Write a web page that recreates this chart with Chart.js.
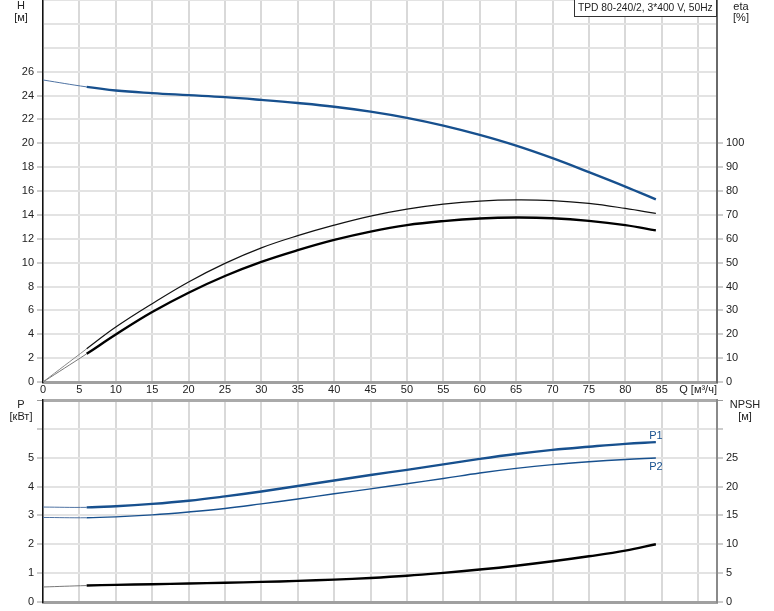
<!DOCTYPE html>
<html>
<head>
<meta charset="utf-8">
<script src="https://cdn.jsdelivr.net/npm/chart.js@4.4.0/dist/chart.umd.min.js"></script>
<style>
  body { margin: 0; background: #fff; }
  #wrap { position: relative; width: 774px; height: 611px; }
  canvas { position: absolute; left: 0; }
  #top-chart { top: 0; }
  #bottom-chart { top: 390px; }
</style>
</head>
<body>
<div id="wrap">
  <canvas id="top-chart" width="774" height="400"></canvas>
  <canvas id="bottom-chart" width="774" height="221"></canvas>
</div>
<script>
// flow points (m3/h), curves are thin from 0 to 6
const qPoints = [0, 6, 10, 15, 20, 25, 30, 35, 40, 45, 50, 55, 60, 65, 70, 75, 80, 84.2];
const headH = [25.3, 24.72, 24.42, 24.2, 24.03, 23.86, 23.63, 23.37, 23.06, 22.65, 22.13, 21.48, 20.7, 19.8, 18.75, 17.58, 16.37, 15.3];
const etaUpper = [0, 13.9, 23.0, 32.8, 41.9, 49.7, 56.2, 61.3, 65.7, 69.5, 72.4, 74.5, 75.8, 76.3, 76.0, 74.8, 72.7, 70.6];
const etaLower = [0, 11.8, 19.9, 29.3, 37.4, 44.4, 50.3, 55.2, 59.5, 63.0, 65.7, 67.4, 68.5, 68.9, 68.6, 67.5, 65.7, 63.5];
const powerP1 = [3.29, 3.28, 3.32, 3.40, 3.51, 3.66, 3.83, 4.02, 4.21, 4.40, 4.58, 4.77, 4.96, 5.13, 5.27, 5.38, 5.48, 5.54];
const powerP2 = [2.93, 2.92, 2.95, 3.02, 3.12, 3.24, 3.40, 3.57, 3.75, 3.92, 4.10, 4.28, 4.47, 4.63, 4.76, 4.86, 4.94, 4.99];
const npshM = [2.6, 2.85, 2.97, 3.08, 3.2, 3.33, 3.48, 3.66, 3.88, 4.17, 4.55, 5.05, 5.62, 6.28, 7.05, 7.92, 8.9, 10.0];

const modelText = "TPD 80-240/2, 3*400 V, 50Hz";
const qMax = 92.6;

const FONT = "'Liberation Sans', Arial, sans-serif";
const BLUE = "#17508e";
Chart.defaults.font = { family: FONT, size: 11 };
Chart.defaults.color = "#222";

function toPoints(ys) {
  return qPoints.map(function (q, i) { return { x: q, y: ys[i] }; });
}

function curve(label, ys, axis, color, width, thinColor) {
  return {
    label: label,
    data: toPoints(ys),
    yAxisID: axis,
    borderColor: color,
    borderWidth: width,
    pointRadius: 0,
    fill: false,
    tension: 0.4,
    // start of curve (Q <= 6) is drawn thin
    segment: {
      borderWidth: function (ctx) { return ctx.p1.parsed.x <= 6 ? 1 : width; },
      borderColor: function (ctx) { return ctx.p1.parsed.x <= 6 ? thinColor : color; },
    },
  };
}

// fixed axis sizes so both panels line up
function fixedWidth(w) {
  return function (scale) { scale.width = w; scale.paddingTop = 0; scale.paddingBottom = 0; };
}
function fixedHeight(h) {
  return function (scale) { scale.height = h; scale.paddingLeft = 0; scale.paddingRight = 0; };
}

function xAxis(showLabels, h) {
  return {
    type: "linear",
    min: 0,
    max: qMax,
    ticks: {
      display: showLabels,
      stepSize: 5,
      includeBounds: false,
      autoSkip: false,
      maxRotation: 0,
      padding: 1,
      callback: function (v) { return v === 90 ? "Q [м³/ч]" : v; },
    },
    grid: { color: "#d9d9d9", lineWidth: 2, drawTicks: false },
    border: { color: "#a0a0a0", width: 3 },
    afterFit: fixedHeight(h),
  };
}

function sideAxis(pos, max, step, lastLabel, width, gridOn, borderColor, topLine) {
  return {
    axis: "y",
    position: pos,
    min: 0,
    max: max,
    ticks: {
      stepSize: step,
      autoSkip: false,
      padding: 3,
      callback: function (v) { return v <= lastLabel ? v : ""; },
    },
    grid: {
      drawOnChartArea: gridOn,
      color: function (ctx) { return topLine && ctx.tick.value === max ? "#aaaaaa" : "#e3e3e3"; },
      lineWidth: function (ctx) { return topLine && ctx.tick.value === max ? 3 : 2; },
      tickLength: 6,
      tickWidth: 1,
      tickColor: function (ctx) {
        return ctx.tick.value <= lastLabel || topLine ? "#999" : "rgba(0,0,0,0)";
      },
    },
    border: { color: borderColor, width: pos === "left" ? 1.5 : 2 },
    afterFit: fixedWidth(width),
  };
}

const topDecor = {
  id: "topDecor",
  afterDraw: function (chart) {
    const c = chart.ctx;
    c.save();
    c.font = "11px " + FONT;
    c.fillStyle = "#222";
    c.textAlign = "center";
    c.textBaseline = "middle";
    c.fillText("H", 21, 6);
    c.fillText("[м]", 21, 18);
    c.fillText("eta", 741, 7);
    c.fillText("[%]", 741, 18);
    // model box, font shrunk to fit like the original
    let size = 11;
    c.font = size + "px " + FONT;
    while (c.measureText(modelText).width > 136 && size > 8) {
      size -= 0.25;
      c.font = size + "px " + FONT;
    }
    c.fillStyle = "#fff";
    c.fillRect(574.5, -0.5, 142, 17);
    c.strokeStyle = "#333";
    c.lineWidth = 1;
    c.strokeRect(574.5, -0.5, 142, 17);
    c.fillStyle = "#222";
    c.textAlign = "left";
    c.fillText(modelText, 578, 8);
    c.restore();
  },
};

const bottomDecor = {
  id: "bottomDecor",
  afterDraw: function (chart) {
    const c = chart.ctx;
    c.save();
    c.font = "11px " + FONT;
    c.fillStyle = "#222";
    c.textAlign = "center";
    c.textBaseline = "middle";
    c.fillText("P", 21, 15);
    c.fillText("[кВт]", 21, 27);
    c.fillText("NPSH", 745, 15);
    c.fillText("[м]", 745, 27);
    // curve names at the end of P1 / P2
    const p1 = chart.getDatasetMeta(0).data;
    const p2 = chart.getDatasetMeta(1).data;
    const e1 = p1[p1.length - 1];
    const e2 = p2[p2.length - 1];
    c.fillStyle = BLUE;
    c.fillText("P1", e1.x, e1.y - 6);
    c.fillText("P2", e2.x, e2.y + 9);
    c.restore();
  },
};

new Chart(document.getElementById("top-chart"), {
  type: "line",
  data: {
    datasets: [
      curve("H", headH, "h", BLUE, 2.4, "#4f73a3"),
      curve("eta", etaUpper, "eta", "#111", 1.2, "#888"),
      curve("eta", etaLower, "eta", "#000", 2.4, "#777"),
    ],
  },
  options: {
    responsive: false,
    animation: false,
    devicePixelRatio: 1,
    layout: { padding: 0 },
    plugins: { legend: { display: false }, tooltip: { enabled: false } },
    scales: {
      x: xAxis(true, 18),
      h: sideAxis("left", 32, 2, 26, 43, true, "#111", false),
      eta: sideAxis("right", 160, 10, 100, 57, false, "#6a6a6a", false),
    },
  },
  plugins: [topDecor],
});

new Chart(document.getElementById("bottom-chart"), {
  type: "line",
  data: {
    datasets: [
      curve("P1", powerP1, "p", BLUE, 2.4, "#4f73a3"),
      curve("P2", powerP2, "p", BLUE, 1.4, "#4f73a3"),
      curve("NPSH", npshM, "npsh", "#000", 2.4, "#777"),
    ],
  },
  options: {
    responsive: false,
    animation: false,
    devicePixelRatio: 1,
    layout: { padding: { top: 10 } },
    plugins: { legend: { display: false }, tooltip: { enabled: false } },
    scales: {
      x: xAxis(false, 9),
      p: sideAxis("left", 7, 1, 5, 43, true, "#111", true),
      npsh: sideAxis("right", 35, 5, 25, 57, false, "#8a8a8a", true),
    },
  },
  plugins: [bottomDecor],
});
</script>
</body>
</html>
